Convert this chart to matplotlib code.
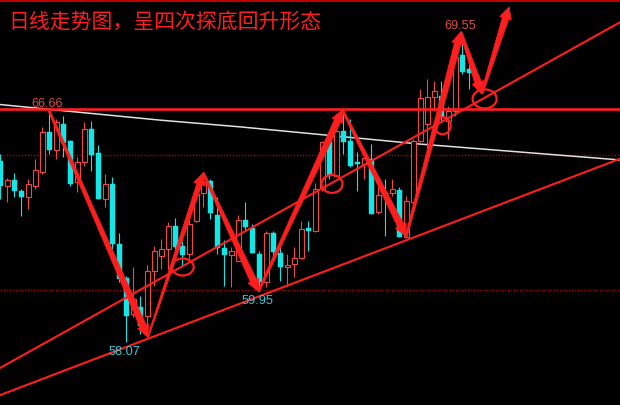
import matplotlib
matplotlib.use("Agg")
import matplotlib.pyplot as plt
import numpy as np
from matplotlib.patches import Rectangle, Ellipse, Polygon
from matplotlib.transforms import IdentityTransform

plt.rcParams['font.family'] = ['Noto Sans CJK SC', 'DejaVu Sans']

# daily candles (price units)
opens = [64.80, 63.87, 64.10, 63.69, 63.46, 63.87, 64.39, 65.88, 65.21, 66.18,
         65.55, 64.02, 64.76, 65.99, 65.10, 63.39, 63.95, 61.72, 60.45, 59.11,
         59.37, 59.04, 60.71, 61.27, 61.53, 62.39, 61.64, 61.35, 62.57, 63.61,
         64.06, 62.79, 61.57, 61.31, 61.08, 62.61, 62.31, 61.35, 60.30, 62.13,
         61.38, 60.86, 60.97, 61.20, 62.31, 62.20, 63.76, 65.51, 64.24, 65.92,
         65.55, 64.76, 64.69, 64.88, 62.91, 63.61, 63.61, 63.72, 61.98, 63.28,
         65.55, 66.18, 67.18, 67.22, 66.29, 66.66, 68.74, 68.22]
highs = [65.06, 64.17, 64.36, 63.76, 64.13, 64.88, 66.07, 66.66, 66.36, 66.47,
         65.58, 64.95, 66.25, 66.29, 65.40, 64.32, 64.21, 62.13, 60.53, 60.86,
         59.78, 60.94, 61.64, 61.90, 62.53, 62.68, 61.83, 62.65, 63.87, 64.24,
         64.13, 63.46, 61.87, 61.61, 62.79, 63.28, 62.46, 61.46, 62.20, 62.20,
         61.64, 61.35, 61.61, 62.57, 62.57, 63.98, 65.55, 65.88, 66.55, 66.60,
         66.36, 65.14, 65.14, 65.43, 63.87, 64.13, 64.13, 63.84, 63.50, 65.62,
         67.48, 67.85, 67.78, 67.78, 66.85, 68.96, 69.55, 68.48]
lows = [63.39, 63.28, 63.46, 62.76, 63.02, 63.76, 64.32, 65.06, 64.88, 64.95,
        63.87, 63.65, 64.62, 64.43, 63.39, 63.09, 61.53, 60.30, 58.07, 59.00,
        58.37, 58.30, 60.16, 60.79, 60.79, 61.46, 60.90, 61.16, 62.53, 63.09,
        62.65, 61.35, 60.16, 60.12, 61.08, 62.24, 61.38, 59.95, 60.12, 61.16,
        60.34, 60.16, 60.49, 61.16, 61.46, 62.16, 63.69, 64.13, 64.21, 65.06,
        64.58, 63.69, 64.13, 62.83, 62.83, 62.01, 63.50, 61.98, 61.94, 63.20,
        65.51, 65.25, 66.66, 66.29, 65.62, 66.47, 68.03, 67.48]
closes = [63.87, 64.10, 63.69, 63.46, 63.95, 64.47, 65.88, 65.21, 66.25, 65.47,
          63.95, 64.76, 65.99, 65.02, 63.39, 63.95, 61.72, 60.42, 59.04, 59.67,
          58.67, 60.71, 61.46, 61.53, 62.39, 61.61, 61.31, 62.46, 63.58, 64.02,
          62.87, 61.57, 61.31, 61.46, 62.61, 62.35, 61.38, 60.30, 62.13, 61.42,
          60.86, 60.94, 61.20, 62.27, 62.20, 63.76, 65.51, 64.24, 65.92, 65.51,
          64.62, 64.69, 64.91, 62.83, 63.54, 63.50, 63.76, 61.98, 63.32, 65.55,
          67.14, 67.18, 67.40, 66.44, 66.66, 68.67, 68.11, 68.07]

title = "日线走势图，呈四次探底回升形态"

# marked extremes
marks_idx = [7, 18, 37, 66]
marks_val = [66.66, 58.07, 59.95, 69.55]
marks_up = [True, False, False, True]

# horizontal levels
resist_level = 66.72
top_level = 70.75
dotted_levels = [65.02, 60.02]

# grey average line
avg_x = [-0.03, 22.83, 34.26, 59.97, 88.54]
avg_y = [66.90, 66.32, 66.07, 65.43, 64.84]

# channel lines, two points each
upper_pts = [(0, 57.11), (88, 69.88)]
lower_pts = [(0, 56.10), (88, 64.83)]

# zigzag path of arrows
zig_x = [7, 21.1, 29, 36.9, 48.9, 58, 65.8, 68.8, 72.7]
zig_y = [66.66, 58.25, 64.36, 59.95, 66.70, 62.0, 69.6, 67.3, 70.53]

# circled spots
circ_x = [26.07, 47.4, 63.2, 69.2]
circ_y = [60.86, 63.95, 66.11, 67.11]
circ_w = [22, 21, 16, 24]   # px
circ_h = [17, 18, 17, 19]   # px

RED = '#ff1e1e'
UP = '#f04848'
DOWN = '#12e6e6'

fig = plt.figure(figsize=(6.2, 4.06), dpi=100, facecolor='black')
ax = fig.add_axes([0, 0, 1, 1])
ax.set_facecolor('black')
ax.set_xlim(-0.029, 88.54)
ax.set_ylim(55.73, 70.823)
ax.axis('off')

# levels
for lv in dotted_levels:
    ax.axhline(lv, color='#a80000', lw=1.0, ls=(0, (1, 1.2)), zorder=1)
ax.axhline(top_level, color='#d00000', lw=1.3, zorder=1)
ax.plot(avg_x, avg_y, color='#e0e0e0', lw=1.1, zorder=2)

# candles
bw = 0.66
for i in range(len(opens)):
    o, h, l, c = opens[i], highs[i], lows[i], closes[i]
    if c >= o:
        ax.vlines(i, l, h, color=UP, lw=0.8, zorder=3)
        ax.add_patch(Rectangle((i - bw / 2, o), bw, max(c - o, 0.02),
                               fc='black', ec=UP, lw=0.8, zorder=4))
    else:
        ax.vlines(i, l, h, color=DOWN, lw=0.8, zorder=3)
        ax.add_patch(Rectangle((i - 0.36, c), 0.72, max(o - c, 0.02),
                               fc=DOWN, ec=DOWN, lw=0.3, zorder=4))

ax.axhline(resist_level, color=RED, lw=1.9, zorder=5)
ax.axline(upper_pts[0], upper_pts[1], color=RED, lw=1.5, zorder=5)
ax.axline(lower_pts[0], lower_pts[1], color=RED, lw=1.5, zorder=5)


def taper_arrow(p0, p1, w0=1.0, w1=3.3, hw=6.0, hl=12.0):
    a = ax.transData.transform(p0)
    b = ax.transData.transform(p1)
    d = b - a
    u = d / np.hypot(*d)
    n = np.array([-u[1], u[0]])
    base = b - u * hl
    pts = [a + n * w0, base + n * w1, base + n * hw, b,
           base - n * hw, base - n * w1, a - n * w0]
    ax.add_patch(Polygon(pts, closed=True, transform=IdentityTransform(),
                         fc=RED, ec=RED, lw=0.5, zorder=6))


for k in range(len(zig_x) - 1):
    if k == 1:
        taper_arrow((zig_x[k], zig_y[k]), (zig_x[k + 1], zig_y[k + 1]), w0=0.6, w1=2.6)
    else:
        taper_arrow((zig_x[k], zig_y[k]), (zig_x[k + 1], zig_y[k + 1]))

# circles, sizes given in pixels
sx, sy = ax.transData.transform([(1, 1)])[0] - ax.transData.transform([(0, 0)])[0]
for cx, cy, w, h in zip(circ_x, circ_y, circ_w, circ_h):
    ax.add_patch(Ellipse((cx, cy), w / sx, h / sy, fill=False, ec=RED,
                         lw=1.6, zorder=7))

for i, v, up in zip(marks_idx, marks_val, marks_up):
    col = '#e04848' if up else '#38c8d4'
    ax.annotate(f"{v:.2f}", (i, v), xytext=(-2, 8 if up else -9),
                textcoords='offset pixels', ha='center', va='center',
                color=col, fontsize=9.2, family=['Liberation Sans', 'DejaVu Sans'],
                zorder=8)

ax.text(8, 384, title, transform=IdentityTransform(), color=RED,
        fontsize=15, va='center', ha='left', zorder=8)

fig.savefig("out.png", dpi=100, facecolor='black')
